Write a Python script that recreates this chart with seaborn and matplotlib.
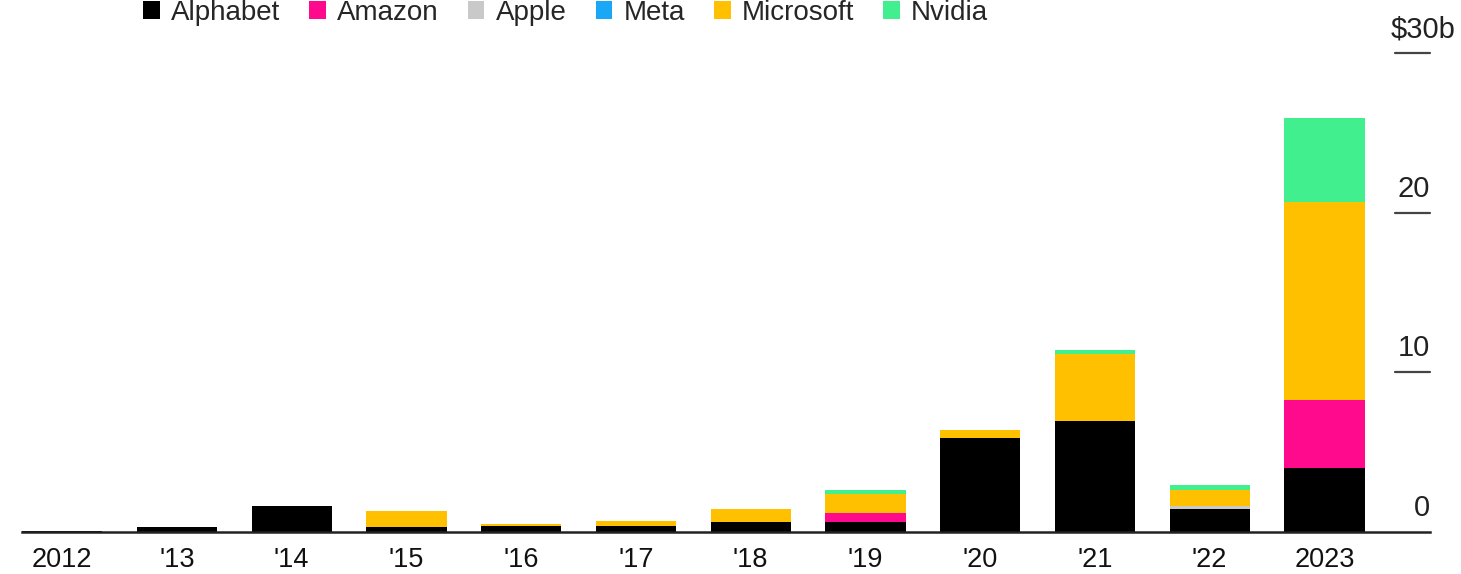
import matplotlib
matplotlib.use("Agg")
import matplotlib.pyplot as plt
import matplotlib.transforms as mtransforms
from matplotlib.patches import Patch
import pandas as pd
import seaborn as sns

# values, billions of dollars
years = ["2012", "'13", "'14", "'15", "'16", "'17", "'18", "'19", "'20", "'21", "'22", "2023"]
alphabet = [0.05, 0.3, 1.65, 0.3, 0.4, 0.4, 0.65, 0.65, 5.9, 6.95, 1.44, 4.0]
amazon = [0, 0, 0, 0, 0, 0, 0, 0.55, 0, 0, 0, 4.25]
apple = [0, 0, 0, 0, 0, 0, 0, 0, 0, 0, 0.19, 0]
meta = [0, 0, 0, 0, 0, 0, 0, 0, 0, 0, 0, 0]
microsoft = [0, 0, 0, 1.0, 0.12, 0.32, 0.8, 1.15, 0.5, 4.2, 1.0, 12.4]
nvidia = [0, 0, 0, 0, 0, 0, 0, 0.3, 0, 0.25, 0.31, 5.25]

companies = ["Alphabet", "Amazon", "Apple", "Meta", "Microsoft", "Nvidia"]
colors = ["#000000", "#FF0A8C", "#C9C9C9", "#1AA7F5", "#FFC000", "#42EF8E"]
y_ticks = [0, 10, 20, 30]
y_labels = ["0", "10", "20", "$30b"]

df = pd.DataFrame({"year": years, "Alphabet": alphabet, "Amazon": amazon,
                   "Apple": apple, "Meta": meta, "Microsoft": microsoft,
                   "Nvidia": nvidia})
cum = df[companies].cumsum(axis=1)
cum["year"] = df["year"]

sns.set_theme(style="white")
plt.rcParams["font.family"] = ["Liberation Sans", "DejaVu Sans"]

fig = plt.figure(figsize=(14.61, 5.74), dpi=100)
ax = fig.add_axes([22 / 1461, 1 - 532 / 574, (1430 - 22) / 1461, (532 - 53) / 574])

# stacked bars: draw cumulative totals from the top layer down
for comp, col in reversed(list(zip(companies, colors))):
    sns.barplot(data=cum, x="year", y=comp, order=years, color=col,
                saturation=1, width=0.7, errorbar=None, ax=ax, zorder=2,
                linewidth=0, edgecolor="none")

ax.set_xlim(-0.35, 11.92)
ax.set_ylim(0, 30)
ax.set_xlabel("")
ax.set_ylabel("")
ax.set_yticks([])
for s in ["top", "right", "left"]:
    ax.spines[s].set_visible(False)
ax.spines["bottom"].set_color("#222222")
ax.spines["bottom"].set_linewidth(1.8)
ax.spines["bottom"].set_zorder(3)
ax.tick_params(axis="x", length=0, pad=11, labelsize=19.5, labelcolor="#111111")

# right-hand value labels sitting above short tick lines
blend = mtransforms.blended_transform_factory(ax.transAxes, ax.transData)
lab_tr = mtransforms.offset_copy(blend, fig=fig, x=0, y=10, units="dots")
for v, lab in zip(y_ticks, y_labels):
    if v > 0:
        ax.plot([0.975, 1.0], [v, v], transform=blend, color="#444444",
                lw=1.6, clip_on=False)
    xr = 1.0 if v < 30 else 1.018
    ax.text(xr, v, lab, transform=lab_tr, ha="right", va="bottom",
            fontsize=21, color="#222222")

handles = [Patch(facecolor=c, edgecolor="none", label=n) for n, c in zip(companies, colors)]
fig.legend(handles=handles, loc="center left", bbox_to_anchor=(143 / 1461, 1 - 13 / 574),
           ncol=6, frameon=False, fontsize=20, handlelength=0.6, handleheight=0.6,
           handletextpad=0.4, columnspacing=1.05, borderaxespad=0, borderpad=0)

fig.savefig("out.png", dpi=100)
